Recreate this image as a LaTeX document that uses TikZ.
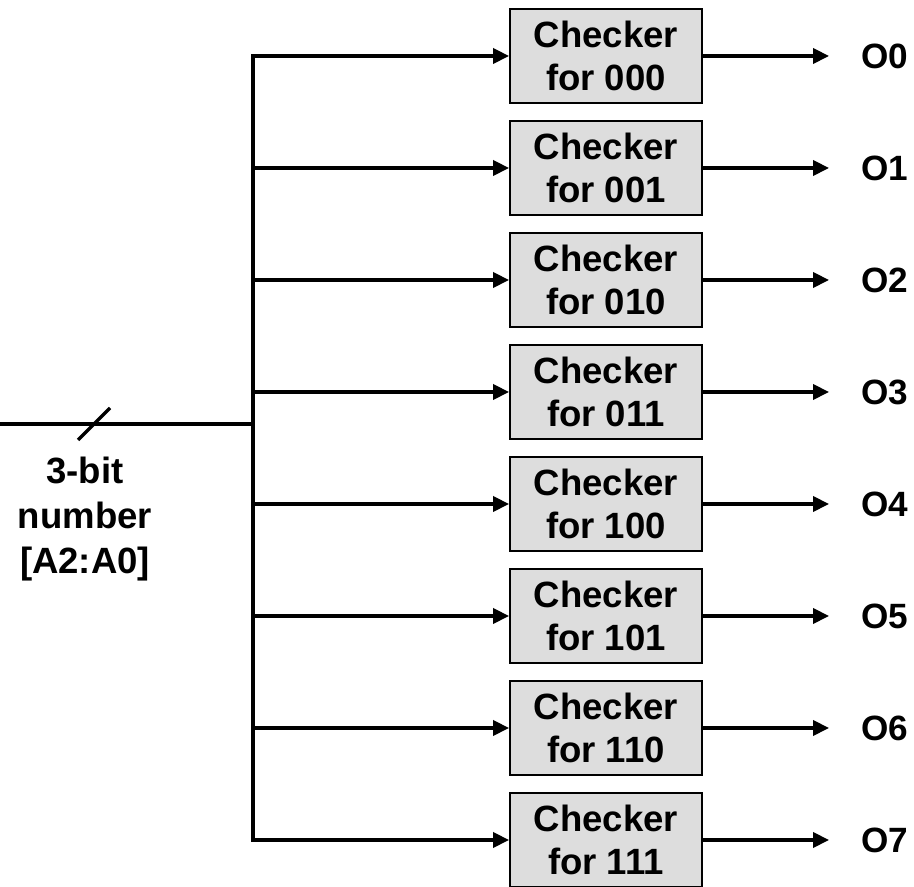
\documentclass[tikz,border=0pt]{standalone}
\usepackage{fontspec}
\setmainfont{Liberation Sans}
\usetikzlibrary{arrows.meta,positioning}
\definecolor{boxgray}{RGB}{221,221,221}

\tikzset{
  checker/.style={draw, line width=1.4pt, fill=boxgray, minimum width=4.8cm,
    minimum height=2.36cm, align=center, inner sep=0pt,
    font=\fontsize{26}{30}\selectfont\bfseries},
  wire/.style={line width=2.4pt},
  sig/.style={wire, -{Triangle[length=0.4cm,width=0.38cm]}},
  outlbl/.style={anchor=west, inner xsep=0.8cm, inner ysep=0pt,
    font=\fontsize{25}{30}\selectfont\bfseries}
}

\begin{document}
\begin{tikzpicture}
  \useasboundingbox (0,0) rectangle (22.85,22.175);

  % Checker boxes
  \node[checker] (chk0) at (15.15,20.775) {Checker\\for 000};
  \node[checker] (chk1) at (15.15,17.975) {Checker\\for 001};
  \node[checker] (chk2) at (15.15,15.175) {Checker\\for 010};
  \node[checker] (chk3) at (15.15,12.375) {Checker\\for 011};
  \node[checker] (chk4) at (15.15,9.575)  {Checker\\for 100};
  \node[checker] (chk5) at (15.15,6.775)  {Checker\\for 101};
  \node[checker] (chk6) at (15.15,3.975)  {Checker\\for 110};
  \node[checker] (chk7) at (15.15,1.175)  {Checker\\for 111};

  % Outputs
  \node[outlbl] (o0) at (20.725,20.775) {O0};
  \node[outlbl] (o1) at (20.725,17.975) {O1};
  \node[outlbl] (o2) at (20.725,15.175) {O2};
  \node[outlbl] (o3) at (20.725,12.375) {O3};
  \node[outlbl] (o4) at (20.725,9.575)  {O4};
  \node[outlbl] (o5) at (20.725,6.775)  {O5};
  \node[outlbl] (o6) at (20.725,3.975)  {O6};
  \node[outlbl] (o7) at (20.725,1.175)  {O7};

  % Bus taps
  \coordinate (b0) at (6.325,20.775);
  \coordinate (b1) at (6.325,17.975);
  \coordinate (b2) at (6.325,15.175);
  \coordinate (b3) at (6.325,12.375);
  \coordinate (b4) at (6.325,9.575);
  \coordinate (b5) at (6.325,6.775);
  \coordinate (b6) at (6.325,3.975);
  \coordinate (b7) at (6.325,1.175);
  \coordinate (tap) at (6.325,11.575);
  \coordinate (in) at (0,11.575);

  \draw[wire] (in) -- (tap) ;            %Input bus
  \draw[wire, line cap=rect] (b0) -- (b7) ;  %Vertical bus
  \draw[wire] (1.95,11.175) -- (2.75,11.975) ; %Bus width slash

  \node[align=center, anchor=north, inner sep=0pt,
    font=\fontsize{26}{32}\selectfont\bfseries] (inlbl) at (2.125,10.75)
    {3-bit\\number\\{[A2:A0]}};

  \draw[sig] (b0) -- (chk0.west);
  \draw[sig] (b1) -- (chk1.west);
  \draw[sig] (b2) -- (chk2.west);
  \draw[sig] (b3) -- (chk3.west);
  \draw[sig] (b4) -- (chk4.west);
  \draw[sig] (b5) -- (chk5.west);
  \draw[sig] (b6) -- (chk6.west);
  \draw[sig] (b7) -- (chk7.west);

  \draw[sig] (chk0) -- (o0);
  \draw[sig] (chk1) -- (o1);
  \draw[sig] (chk2) -- (o2);
  \draw[sig] (chk3) -- (o3);
  \draw[sig] (chk4) -- (o4);
  \draw[sig] (chk5) -- (o5);
  \draw[sig] (chk6) -- (o6);
  \draw[sig] (chk7) -- (o7);
\end{tikzpicture}
\end{document}
